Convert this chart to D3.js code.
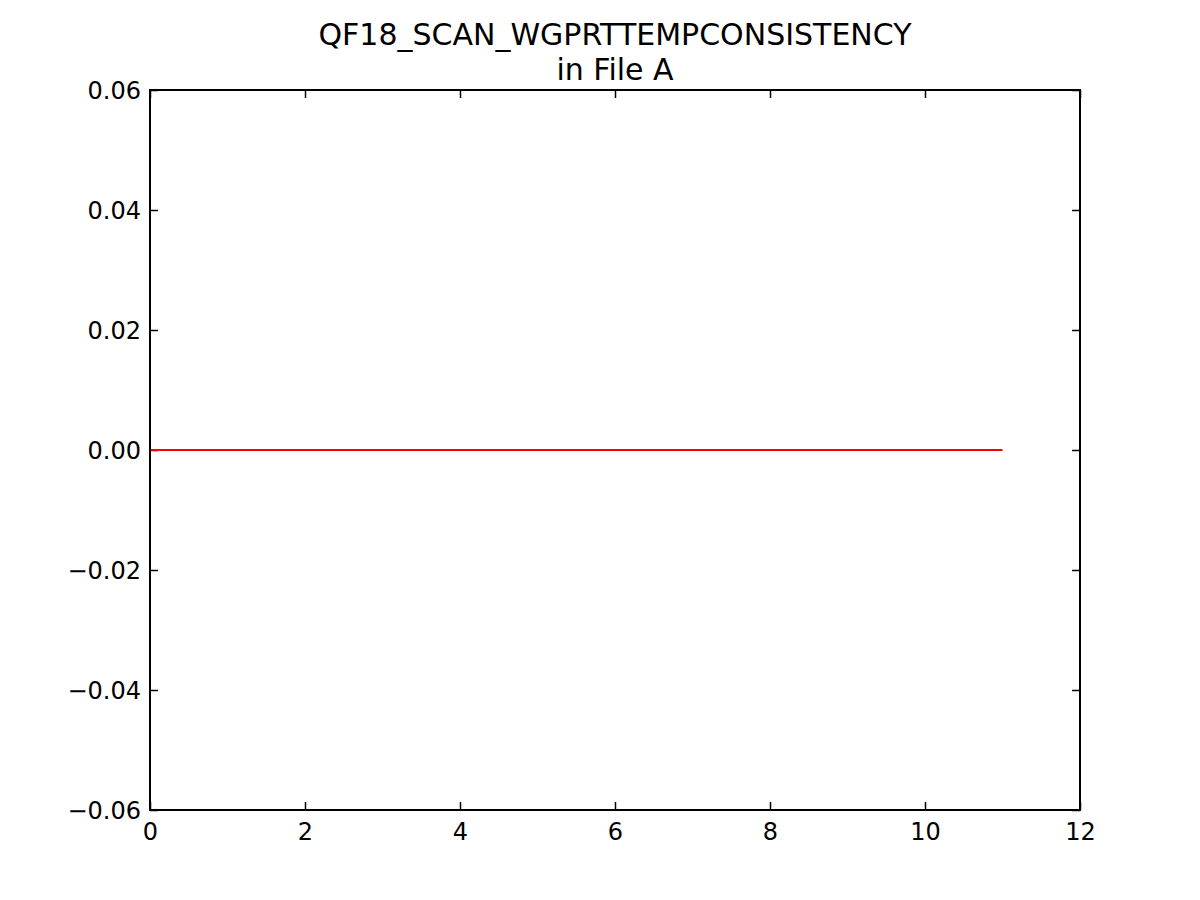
<!DOCTYPE html>
<html>
<head>
<meta charset="utf-8">
<script src="https://cdn.jsdelivr.net/npm/d3@7"></script>
<style>
body { margin: 0; background: #fff; }
svg { display: block; }
text { font-family: "DejaVu Sans", sans-serif; fill: #000; }
</style>
</head>
<body>
<svg id="chart" width="1200" height="900"></svg>
<script>
const titleLines = ["QF18_SCAN_WGPRTTEMPCONSISTENCY", "in File A"];
const xValues = [0, 1, 2, 3, 4, 5, 6, 7, 8, 9, 10, 11];
const yValues = [0, 0, 0, 0, 0, 0, 0, 0, 0, 0, 0, 0];
const xTicks = [0, 2, 4, 6, 8, 10, 12];
const yTicks = [-0.06, -0.04, -0.02, 0.00, 0.02, 0.04, 0.06];

const W = 1200, H = 900;
const m = {left: 150, right: 120, top: 90, bottom: 90};
const svg = d3.select("#chart");
const x = d3.scaleLinear().domain([0, 12]).range([m.left, W - m.right]);
const y = d3.scaleLinear().domain([-0.06, 0.06]).range([H - m.bottom, m.top]);

const fmtY = d => (d < 0 ? "\u2212" : "") + Math.abs(d).toFixed(2);
const fmtX = d => String(d);

const tickLen = 8;
const gB = svg.append("g").attr("transform", `translate(0,${H - m.bottom})`)
  .call(d3.axisBottom(x).tickValues(xTicks).tickFormat(fmtX).tickSizeInner(-tickLen).tickSizeOuter(0).tickPadding(8));
const gT = svg.append("g").attr("transform", `translate(0,${m.top})`)
  .call(d3.axisTop(x).tickValues(xTicks).tickFormat("").tickSizeInner(-tickLen).tickSizeOuter(0));
const gL = svg.append("g").attr("transform", `translate(${m.left},0)`)
  .call(d3.axisLeft(y).tickValues(yTicks).tickFormat(fmtY).tickSizeInner(-tickLen).tickSizeOuter(0).tickPadding(9));
const gR = svg.append("g").attr("transform", `translate(${W - m.right},0)`)
  .call(d3.axisRight(y).tickValues(yTicks).tickFormat("").tickSizeInner(-tickLen).tickSizeOuter(0));

[gB, gT, gL, gR].forEach(g => {
  g.select(".domain").remove();
  g.selectAll(".tick line").attr("stroke", "#000").attr("stroke-width", 1.5);
  g.selectAll(".tick text").attr("font-size", 24).attr("font-family", "DejaVu Sans, sans-serif").attr("fill", "#000");
});
gB.selectAll(".tick text").attr("dy", "0.9em");
gL.selectAll(".tick text").attr("dy", "0.35em");

const line = d3.line().x((d, i) => x(xValues[i])).y(d => y(d));
svg.append("path").datum(yValues)
  .attr("d", line).attr("fill", "none").attr("stroke", "#ff0000").attr("stroke-width", 2);

svg.append("rect").attr("x", m.left).attr("y", m.top)
  .attr("width", W - m.left - m.right).attr("height", H - m.top - m.bottom)
  .attr("fill", "none").attr("stroke", "#000").attr("stroke-width", 2);

svg.append("text").attr("x", (m.left + W - m.right) / 2).attr("y", 45)
  .attr("text-anchor", "middle").attr("font-size", 30).text(titleLines[0]);
svg.append("text").attr("x", (m.left + W - m.right) / 2).attr("y", 80)
  .attr("text-anchor", "middle").attr("font-size", 30).text(titleLines[1]);
</script>
</body>
</html>
